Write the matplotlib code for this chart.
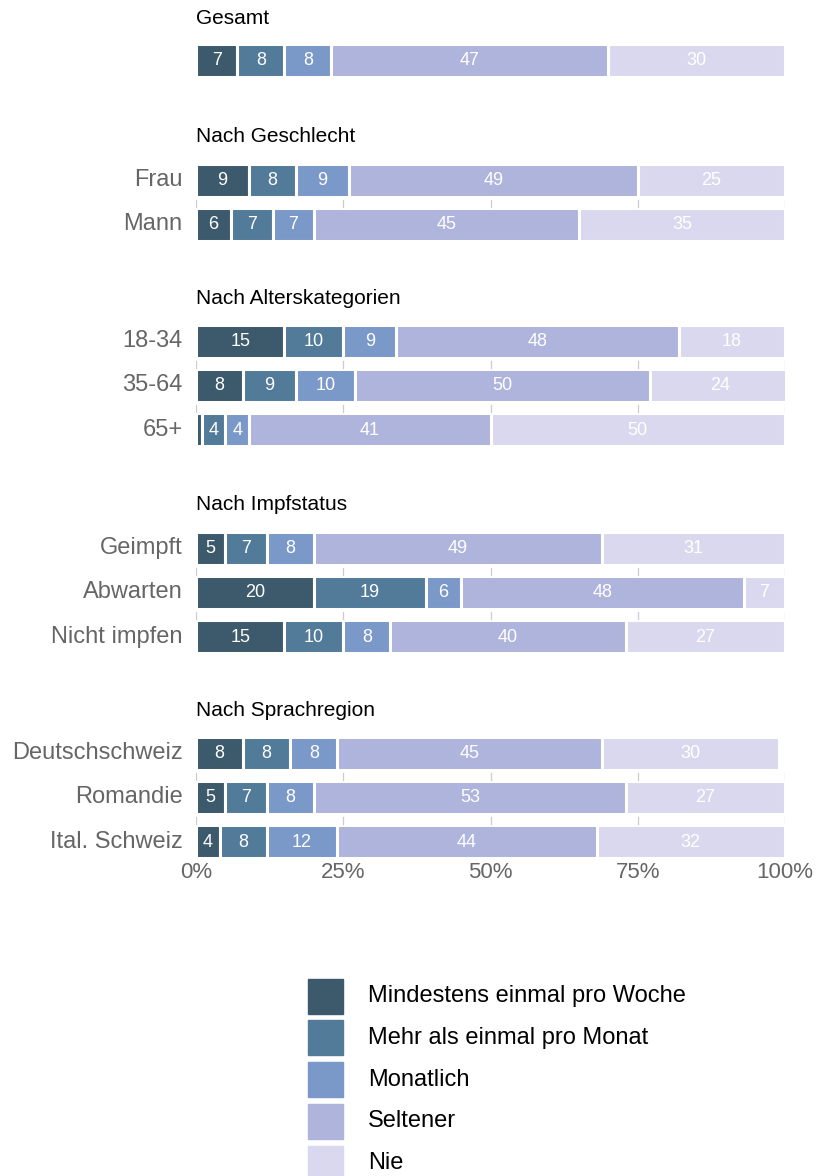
import matplotlib
matplotlib.use("Agg")
import matplotlib.pyplot as plt
from matplotlib.patches import Rectangle

plt.rcParams['font.family'] = ['Liberation Sans', 'DejaVu Sans']

# Antwortkategorien und Farben
answers = ['Mindestens einmal pro Woche', 'Mehr als einmal pro Monat',
           'Monatlich', 'Seltener', 'Nie']
colors = ['#3c5a6b', '#527a99', '#7a98c8', '#aeb4db', '#dad8ee']

groups = ['Gesamt', 'Nach Geschlecht', 'Nach Alterskategorien',
          'Nach Impfstatus', 'Nach Sprachregion']
rows = [
    [''],
    ['Frau', 'Mann'],
    ['18-34', '35-64', '65+'],
    ['Geimpft', 'Abwarten', 'Nicht impfen'],
    ['Deutschschweiz', 'Romandie', 'Ital. Schweiz'],
]
values = [
    [[7, 8, 8, 47, 30]],
    [[9, 8, 9, 49, 25], [6, 7, 7, 45, 35]],
    [[15, 10, 9, 48, 18], [8, 9, 10, 50, 24], [1, 4, 4, 41, 50]],
    [[5, 7, 8, 49, 31], [20, 19, 6, 48, 7], [15, 10, 8, 40, 27]],
    [[8, 8, 8, 45, 30], [5, 7, 8, 53, 27], [4, 8, 12, 44, 32]],
]
ticks = [0, 25, 50, 75, 100]
tick_labels = ['0%', '25%', '50%', '75%', '100%']

# Layout in Pixeln (Figur 827 x 1176)
W, H = 827, 1176
group_title_y = [18, 136, 298, 505, 711]
first_row_y = [60, 180, 341, 548, 753]
row_step = 44.3
bar_h = 33

fig = plt.figure(figsize=(W / 100, H / 100), dpi=100)
ax = fig.add_axes([196 / W, 0, (785 - 196) / W, 1])
ax.set_xlim(0, 100)
ax.set_ylim(H, 0)
ax.axis('off')

tick_col = '#cccccc'
for g, title in enumerate(groups):
    ax.text(0, group_title_y[g], title, fontsize=15, color='black',
            ha='left', va='center')
    for r, label in enumerate(rows[g]):
        y = first_row_y[g] + r * row_step
        left = 0
        for k, v in enumerate(values[g][r]):
            ax.barh(y, v, left=left, height=bar_h, color=colors[k],
                    edgecolor='white', linewidth=2.2)
            if v >= 3:
                ax.text(left + v / 2, y + 0.5, str(v), color='white', fontsize=13,
                        ha='center', va='center')
            left += v
        # kleine Markierung rechts neben dem Balken
        ax.plot([100.4, 101.0], [y, y], color='#bbbbbb', lw=1)
        if label:
            ax.text(-2.3, y, label, fontsize=17, color='#666666',
                    ha='right', va='center')
        # Tickstriche zwischen den Zeilen einer Gruppe
        if r < len(rows[g]) - 1:
            y0 = y + bar_h / 2 + 3
            for t in ticks:
                ax.plot([t, t], [y0, y0 + 7], color=tick_col, lw=0.9)

for t, tl in zip(ticks, tick_labels):
    ax.text(t, 873, tl, fontsize=16, color='#666666', ha='center', va='center')

# Legende
sq = 35
for k, name in enumerate(answers):
    yc = 996 + k * 41.8
    fig.patches.append(Rectangle((308 / W, 1 - (yc + sq / 2) / H), sq / W, sq / H,
                                 transform=fig.transFigure, color=colors[k]))
    fig.text(368 / W, 1 - yc / H, name, fontsize=17, color='black',
             ha='left', va='center')

fig.savefig('out.png', dpi=100)
